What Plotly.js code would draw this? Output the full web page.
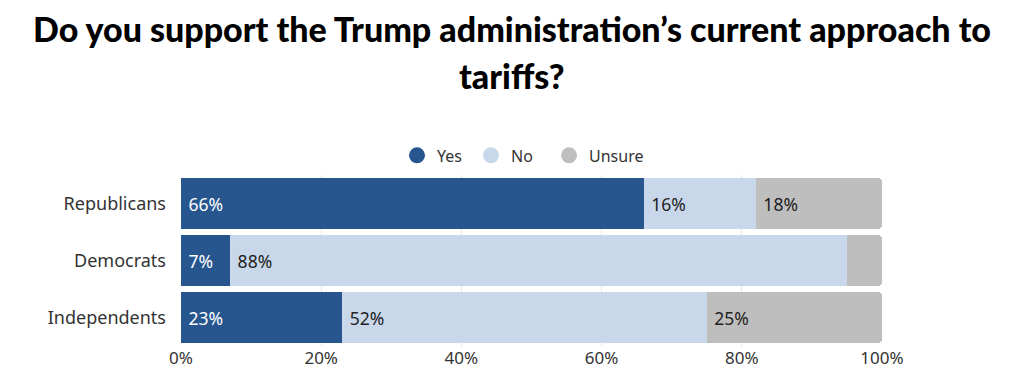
<!DOCTYPE html>
<html>
<head>
<meta charset="utf-8">
<script src="https://cdn.plot.ly/plotly-3.0.1.min.js"></script>
<style>html,body{margin:0;padding:0;background:#fff;}#chart{width:1024px;height:383px;}</style>
</head>
<body>
<div id="chart"></div>
<script>
const categories = ["Republicans", "Democrats", "Independents"];
const yesValues = [66, 7, 23];
const noValues = [16, 88, 52];
const unsureValues = [18, 5, 25];
const unsureLabels = ["18%", "", "25%"];
const seriesNames = ["Yes", "No", "Unsure"];
const tickValues = [0, 20, 40, 60, 80, 100];
const tickLabels = ["0%", "20%", "40%", "60%", "80%", "100%"];
const titleLine1 = "Do you support the Trump administration’s current approach to";
const titleLine2 = "tariffs?";

const colors = ["#27568f", "#c8d8ea", "#bebebe"];
const labelFont = {family: "Noto Sans, Open Sans, sans-serif", size: 17.5};

function barTrace(name, values, texts, color, textColor) {
  return {
    type: "bar", orientation: "h", name: name,
    y: categories, x: values,
    text: texts, texttemplate: " %{text}",
    textposition: "inside", insidetextanchor: "start", textangle: 0,
    textfont: Object.assign({color: textColor}, labelFont),
    constraintext: "none",
    marker: {color: color},
    showlegend: false, hoverinfo: "skip"
  };
}
function legendTrace(name, color, legendId) {
  return {type: "scatter", mode: "markers", name: name, x: [null], y: [null],
    marker: {color: color, size: 17, symbol: "circle"}, showlegend: true,
    legend: legendId, hoverinfo: "skip"};
}

const data = [
  barTrace(seriesNames[0], yesValues, yesValues.map(v => v + "%"), colors[0], "#ffffff"),
  barTrace(seriesNames[1], noValues, noValues.map(v => v + "%"), colors[1], "#222222"),
  barTrace(seriesNames[2], unsureValues, unsureLabels, colors[2], "#222222"),
  legendTrace(seriesNames[0], colors[0], "legend"),
  legendTrace(seriesNames[1], colors[1], "legend2"),
  legendTrace(seriesNames[2], colors[2], "legend3")
];

const titleFont = {family: "Lato, sans-serif", size: 34, color: "#000000", weight: 900};
const legendFont = {family: "Noto Sans, Open Sans, sans-serif", size: 16, color: "#333333"};
const plotL = 181, plotW = 701;
function legendAt(px) {
  return {orientation: "h", x: (px - plotL) / plotW, xref: "paper", xanchor: "left",
    y: 1.015, yref: "paper", yanchor: "bottom", font: legendFont, bgcolor: "rgba(0,0,0,0)"};
}

const layout = {
  width: 1024, height: 383,
  paper_bgcolor: "#ffffff", plot_bgcolor: "#ffffff",
  margin: {l: 181, r: 142, t: 175, b: 37, pad: 0, autoexpand: false},
  barmode: "stack", bargap: 0.1, barcornerradius: 4,
  title: {
    text: titleLine1,
    font: titleFont,
    x: 0.5, xref: "container", xanchor: "center",
    y: 1 - 30 / 383, yref: "container", yanchor: "middle", automargin: false
  },
  annotations: [{
    text: titleLine2, font: titleFont, showarrow: false,
    xref: "paper", x: (512 - 181) / 701, xanchor: "center",
    yref: "paper", y: (346 - 75) / 171, yanchor: "middle"
  }],
  showlegend: true,
  legend: legendAt(419 - 22),
  legend2: legendAt(493 - 22),
  legend3: legendAt(571 - 22),
  xaxis: {
    range: [0, 100], tickvals: tickValues, ticktext: tickLabels,
    showgrid: true, gridcolor: "#e6e6e6", gridwidth: 1,
    zeroline: false, showline: false, ticks: "",
    tickfont: {family: "Noto Sans, Open Sans, sans-serif", size: 17, color: "#333333"},
    fixedrange: true, automargin: false
  },
  yaxis: {
    categoryorder: "array", categoryarray: categories, autorange: "reversed",
    showgrid: false, zeroline: false, showline: false, ticks: "",
    ticklabelstandoff: 14,
    tickfont: {family: "Noto Sans, Open Sans, sans-serif", size: 18, color: "#333333"},
    fixedrange: true, automargin: false
  }
};

Plotly.newPlot("chart", data, layout, {displayModeBar: false, staticPlot: true});
</script>
</body>
</html>
